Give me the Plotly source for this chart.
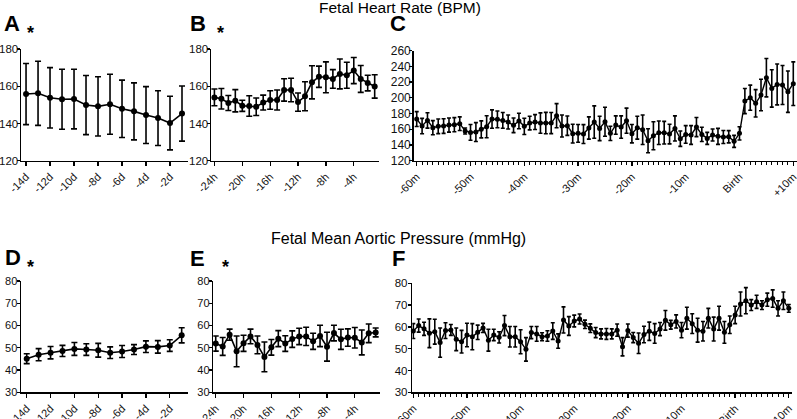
import plotly.graph_objects as go

# ---------------- data ----------------
A_days = list(range(-14, 0))
A_mean = [155.8, 156.2, 153.8, 153.0, 153.1, 149.9, 149.2, 150.3, 147.9, 146.5, 144.5, 142.9, 140.2, 145.3]
A_err = [16.4, 17.2, 16.2, 16.1, 16.0, 15.9, 15.9, 16.1, 15.4, 15.3, 15.3, 14.7, 14.4, 14.8]

B_hours = list(range(-24, 0))
B_mean = [154.0, 153.3, 151.0, 152.2, 149.5, 149.4, 149.0, 151.2, 152.6, 152.6, 158.0, 158.0,
          151.5, 154.6, 162.1, 165.1, 164.8, 163.9, 166.6, 165.9, 168.4, 163.9, 161.7, 159.9]
B_err = [4.5, 5.5, 4.0, 6.0, 3.0, 5.5, 4.7, 4.0, 5.0, 5.4, 6.0, 6.3,
         4.9, 7.8, 8.9, 5.7, 8.3, 5.0, 8.0, 7.0, 7.0, 7.2, 4.2, 6.3]

C_min = list(range(-60, 11))
C_mean = [173.0, 164.1, 171.3, 162.0, 163.7, 164.1, 165.4, 165.8, 167.1, 157.8,
          156.0, 156.5, 159.9, 163.3, 173.0, 172.6, 171.3, 169.2, 165.0, 170.5,
          163.7, 167.9, 169.2, 167.9, 167.9, 167.9, 177.3, 164.1, 164.5, 154.4,
          154.8, 153.9, 161.6, 169.2, 161.1, 169.6, 154.8, 165.4, 162.8, 170.9,
          154.4, 162.0, 159.4, 145.4, 151.8, 155.6, 155.6, 153.9, 161.1, 148.0,
          153.5, 152.7, 162.8, 153.5, 148.4, 152.7, 151.0, 150.1, 150.5, 144.6,
          154.8, 195.9, 200.2, 193.0, 203.6, 225.6, 212.0, 217.1, 216.3, 207.8, 218.0]
C_err = [9.5, 9.8, 9.8, 9.0, 9.3, 9.3, 9.0, 9.0, 8.7, 3.8,
         10.0, 12.0, 10.8, 14.0, 11.7, 10.6, 10.0, 8.9, 9.3, 9.8,
         10.4, 8.7, 9.5, 13.0, 13.6, 13.4, 15.3, 14.0, 12.3, 11.9,
         11.3, 12.0, 14.2, 20.6, 15.5, 18.5, 9.0, 11.7, 14.2, 16.0,
         11.7, 14.6, 18.7, 15.3, 17.8, 15.0, 14.4, 12.5, 16.0, 9.8,
         11.2, 11.9, 12.1, 9.0, 7.6, 7.6, 10.2, 8.3, 7.8, 7.6,
         8.5, 16.0, 16.0, 17.4, 20.0, 24.4, 23.8, 26.0, 24.8, 26.3, 27.8]

D_days = list(range(-14, 0))
D_mean = [45.1, 46.9, 47.8, 48.6, 49.5, 49.2, 48.9, 47.8, 48.3, 49.2, 50.5, 50.4, 51.0, 55.6]
D_err = [2.2, 2.7, 2.8, 2.5, 2.9, 2.6, 3.1, 2.6, 2.7, 2.2, 2.6, 2.8, 2.6, 3.4]

E_hours = list(range(-24, 0))
E_mean = [51.9, 50.6, 55.9, 48.4, 52.0, 55.1, 51.3, 45.9, 50.2, 54.1, 51.9, 53.9,
          55.1, 55.1, 52.9, 55.3, 50.5, 56.6, 53.8, 54.6, 54.5, 52.4, 56.5, 56.9]
E_err = [3.4, 4.0, 2.5, 6.9, 3.6, 3.3, 4.0, 6.7, 3.5, 3.6, 3.5, 3.7,
         3.7, 4.1, 3.6, 4.8, 6.5, 3.5, 4.5, 3.9, 4.6, 5.6, 4.2, 2.0]

F_min = list(range(-60, 11))
F_mean = [58.1, 60.6, 59.1, 57.1, 57.8, 52.8, 58.3, 58.6, 54.3, 53.2,
          56.3, 55.5, 57.5, 59.5, 53.9, 56.3, 55.2, 60.6, 55.5, 55.5,
          53.2, 49.7, 57.4, 56.8, 55.5, 55.8, 58.1, 53.5, 63.2, 60.4,
          62.7, 63.6, 61.2, 59.4, 57.4, 56.8, 56.8, 56.8, 58.5, 50.9,
          58.3, 55.1, 52.5, 56.5, 58.0, 57.0, 59.0, 63.0, 61.0, 62.5,
          58.5, 64.0, 61.5, 58.5, 58.0, 64.0, 59.0, 64.0, 57.5, 61.0,
          65.5, 70.5, 72.0, 70.0, 71.5, 70.0, 72.5, 73.0, 68.5, 72.0, 68.5]
F_err = [3.4, 3.0, 3.0, 6.6, 5.7, 6.7, 3.6, 2.5, 5.2, 5.2,
         5.4, 6.0, 3.3, 2.1, 5.0, 2.6, 2.6, 4.6, 4.7, 4.7,
         5.5, 5.4, 2.8, 3.4, 1.8, 2.4, 3.8, 3.3, 6.0, 4.3,
         2.7, 2.3, 1.9, 2.0, 2.3, 2.3, 2.5, 2.3, 2.8, 4.2,
         3.0, 2.3, 4.7, 3.8, 4.2, 4.5, 3.0, 4.5, 2.0, 3.0,
         3.5, 5.0, 4.5, 5.5, 4.5, 4.5, 5.5, 5.5, 5.0, 4.0,
         4.0, 5.5, 6.0, 2.5, 3.0, 2.0, 3.0, 4.0, 3.5, 4.0, 1.8]

day_ticks = [-14, -12, -10, -8, -6, -4, -2]
day_labels = ["-14d", "-12d", "-10d", "-8d", "-6d", "-4d", "-2d"]
hour_ticks = [-24, -20, -16, -12, -8, -4]
hour_labels = ["-24h", "-20h", "-16h", "-12h", "-8h", "-4h"]
min_ticks = [-60, -50, -40, -30, -20, -10, 0, 10]
min_labels = ["-60m", "-50m", "-40m", "-30m", "-20m", "-10m", "Birth", "+10m"]

title_top = "Fetal Heart Rate (BPM)"
title_bottom = "Fetal Mean Aortic Pressure (mmHg)"

# ---------------- figure ----------------
W, H = 797, 419
FONT = "Liberation Sans, Arial, Helvetica, sans-serif"

fig = go.Figure()


def add_series(x, y, err, ax, msize, cap, thick, lw):
    fig.add_trace(go.Scatter(
        x=x, y=y, mode="lines+markers",
        line=dict(color="black", width=lw),
        marker=dict(color="black", size=msize, symbol="circle"),
        error_y=dict(type="data", array=err, visible=True, color="black",
                     thickness=thick, width=cap),
        xaxis="x" + ("" if ax == 1 else str(ax)),
        yaxis="y" + ("" if ax == 1 else str(ax)),
        hoverinfo="skip", showlegend=False, cliponaxis=False))


add_series(A_days, A_mean, A_err, 1, 6, 3, 1.6, 1.6)
add_series(B_hours, B_mean, B_err, 2, 6, 3, 1.6, 1.6)
add_series(C_min, C_mean, C_err, 3, 5, 2, 1.6, 1.4)
add_series(D_days, D_mean, D_err, 4, 6, 3, 1.6, 1.6)
add_series(E_hours, E_mean, E_err, 5, 6, 3, 1.6, 1.6)
add_series(F_min, F_mean, F_err, 6, 5, 2, 1.6, 1.4)


def px_x(a, b):
    return [a / W, b / W]


def px_y(top, bottom):
    return [1 - bottom / H, 1 - top / H]


def xax(domain, rng, tv, tt, anchor, minor=False, fsize=11):
    d = dict(domain=domain, range=rng, tickmode="array", tickvals=tv, ticktext=tt,
             tickangle=-45, ticks="outside", ticklen=4, tickwidth=1.3, tickcolor="black",
             showline=True, linecolor="black", linewidth=1.5, showgrid=False,
             zeroline=False, anchor=anchor, fixedrange=True, automargin=False,
             ticklabeloverflow="allow",
             tickfont=dict(family=FONT, size=fsize, color="#111"))
    if minor:
        d["minor"] = dict(tickmode="linear", tick0=0, dtick=1, ticks="outside",
                          ticklen=3, tickwidth=1, tickcolor="black", showgrid=False)
    return d


def yax(domain, rng, dt, anchor, fsize=11.5, standoff=-3):
    return dict(domain=domain, range=rng, tickmode="linear", tick0=rng[0], dtick=dt,
                ticks="outside", ticklen=3, tickwidth=1.3, tickcolor="black",
                showline=True, linecolor="black", linewidth=1.5, showgrid=False,
                zeroline=False, anchor=anchor, fixedrange=True, automargin=False,
                ticklabelstandoff=standoff, ticklabeloverflow="allow",
                tickfont=dict(family=FONT, size=fsize, color="#111"))


row1 = px_y(49, 160.7)
row1c = px_y(50.7, 160.7)
row2 = px_y(281, 392.3)
row2f = px_y(283.3, 392.3)

fig.update_layout(
    template="none",
    width=W, height=H, margin=dict(l=0, r=0, t=0, b=0, pad=0, autoexpand=False),
    paper_bgcolor="white", plot_bgcolor="white", showlegend=False,
    xaxis=xax(px_x(21, 188), [-14.42, -0.5], day_ticks, day_labels, "y"),
    yaxis=yax(row1, [120, 180], 20, "x", fsize=11.5, standoff=-4),
    xaxis2=xax(px_x(211, 379), [-24.49, -0.38], hour_ticks, hour_labels, "y2"),
    yaxis2=yax(row1, [120, 180], 20, "x2", fsize=11.5, standoff=-4),
    xaxis3=xax(px_x(413.7, 797), [-60.56, 10.69], min_ticks, min_labels, "y3", minor=True),
    yaxis3=yax(row1c, [120, 260], 20, "x3", fsize=12, standoff=-4),
    xaxis4=xax(px_x(21, 188), [-14.48, -0.47], day_ticks, day_labels, "y4"),
    yaxis4=yax(row2, [30, 80], 10, "x4", fsize=11, standoff=-3),
    xaxis5=xax(px_x(213.3, 380), [-24.35, -0.38], hour_ticks, hour_labels, "y5"),
    yaxis5=yax(row2, [30, 80], 10, "x5", fsize=11, standoff=-3),
    xaxis6=xax(px_x(412.3, 792), [-60.19, 10.6], min_ticks, min_labels, "y6", minor=True),
    yaxis6=yax(row2f, [30, 80], 10, "x6", fsize=11.5, standoff=-2),
)


def label(text, x, y, size, bold=False, xanchor="left"):
    fig.add_annotation(
        text=("<b>%s</b>" % text) if bold else text,
        x=x / W, y=1 - y / H, xref="paper", yref="paper",
        xanchor=xanchor, yanchor="middle", showarrow=False,
        font=dict(family=FONT, size=size, color="black"))


# titles
label(title_top, 400, 8, 15.5, xanchor="center")
label(title_bottom, 398, 239, 16, xanchor="center")
# panel letters
label("A", 2, 23.5, 22, bold=True)
label("B", 188, 23.5, 22, bold=True)
label("C", 388, 23.5, 22, bold=True)
label("D", 3, 257.5, 22, bold=True)
label("E", 188, 258, 22, bold=True)
label("F", 390, 258, 22, bold=True)
# asterisks
label("*", 25, 33, 18, bold=True)
label("*", 215, 33, 18, bold=True)
label("*", 25, 267, 18, bold=True)
label("*", 220, 267, 18, bold=True)

fig.write_html("out.html", config={"displayModeBar": False, "staticPlot": True},
               post_script="document.body.style.margin='0';")
